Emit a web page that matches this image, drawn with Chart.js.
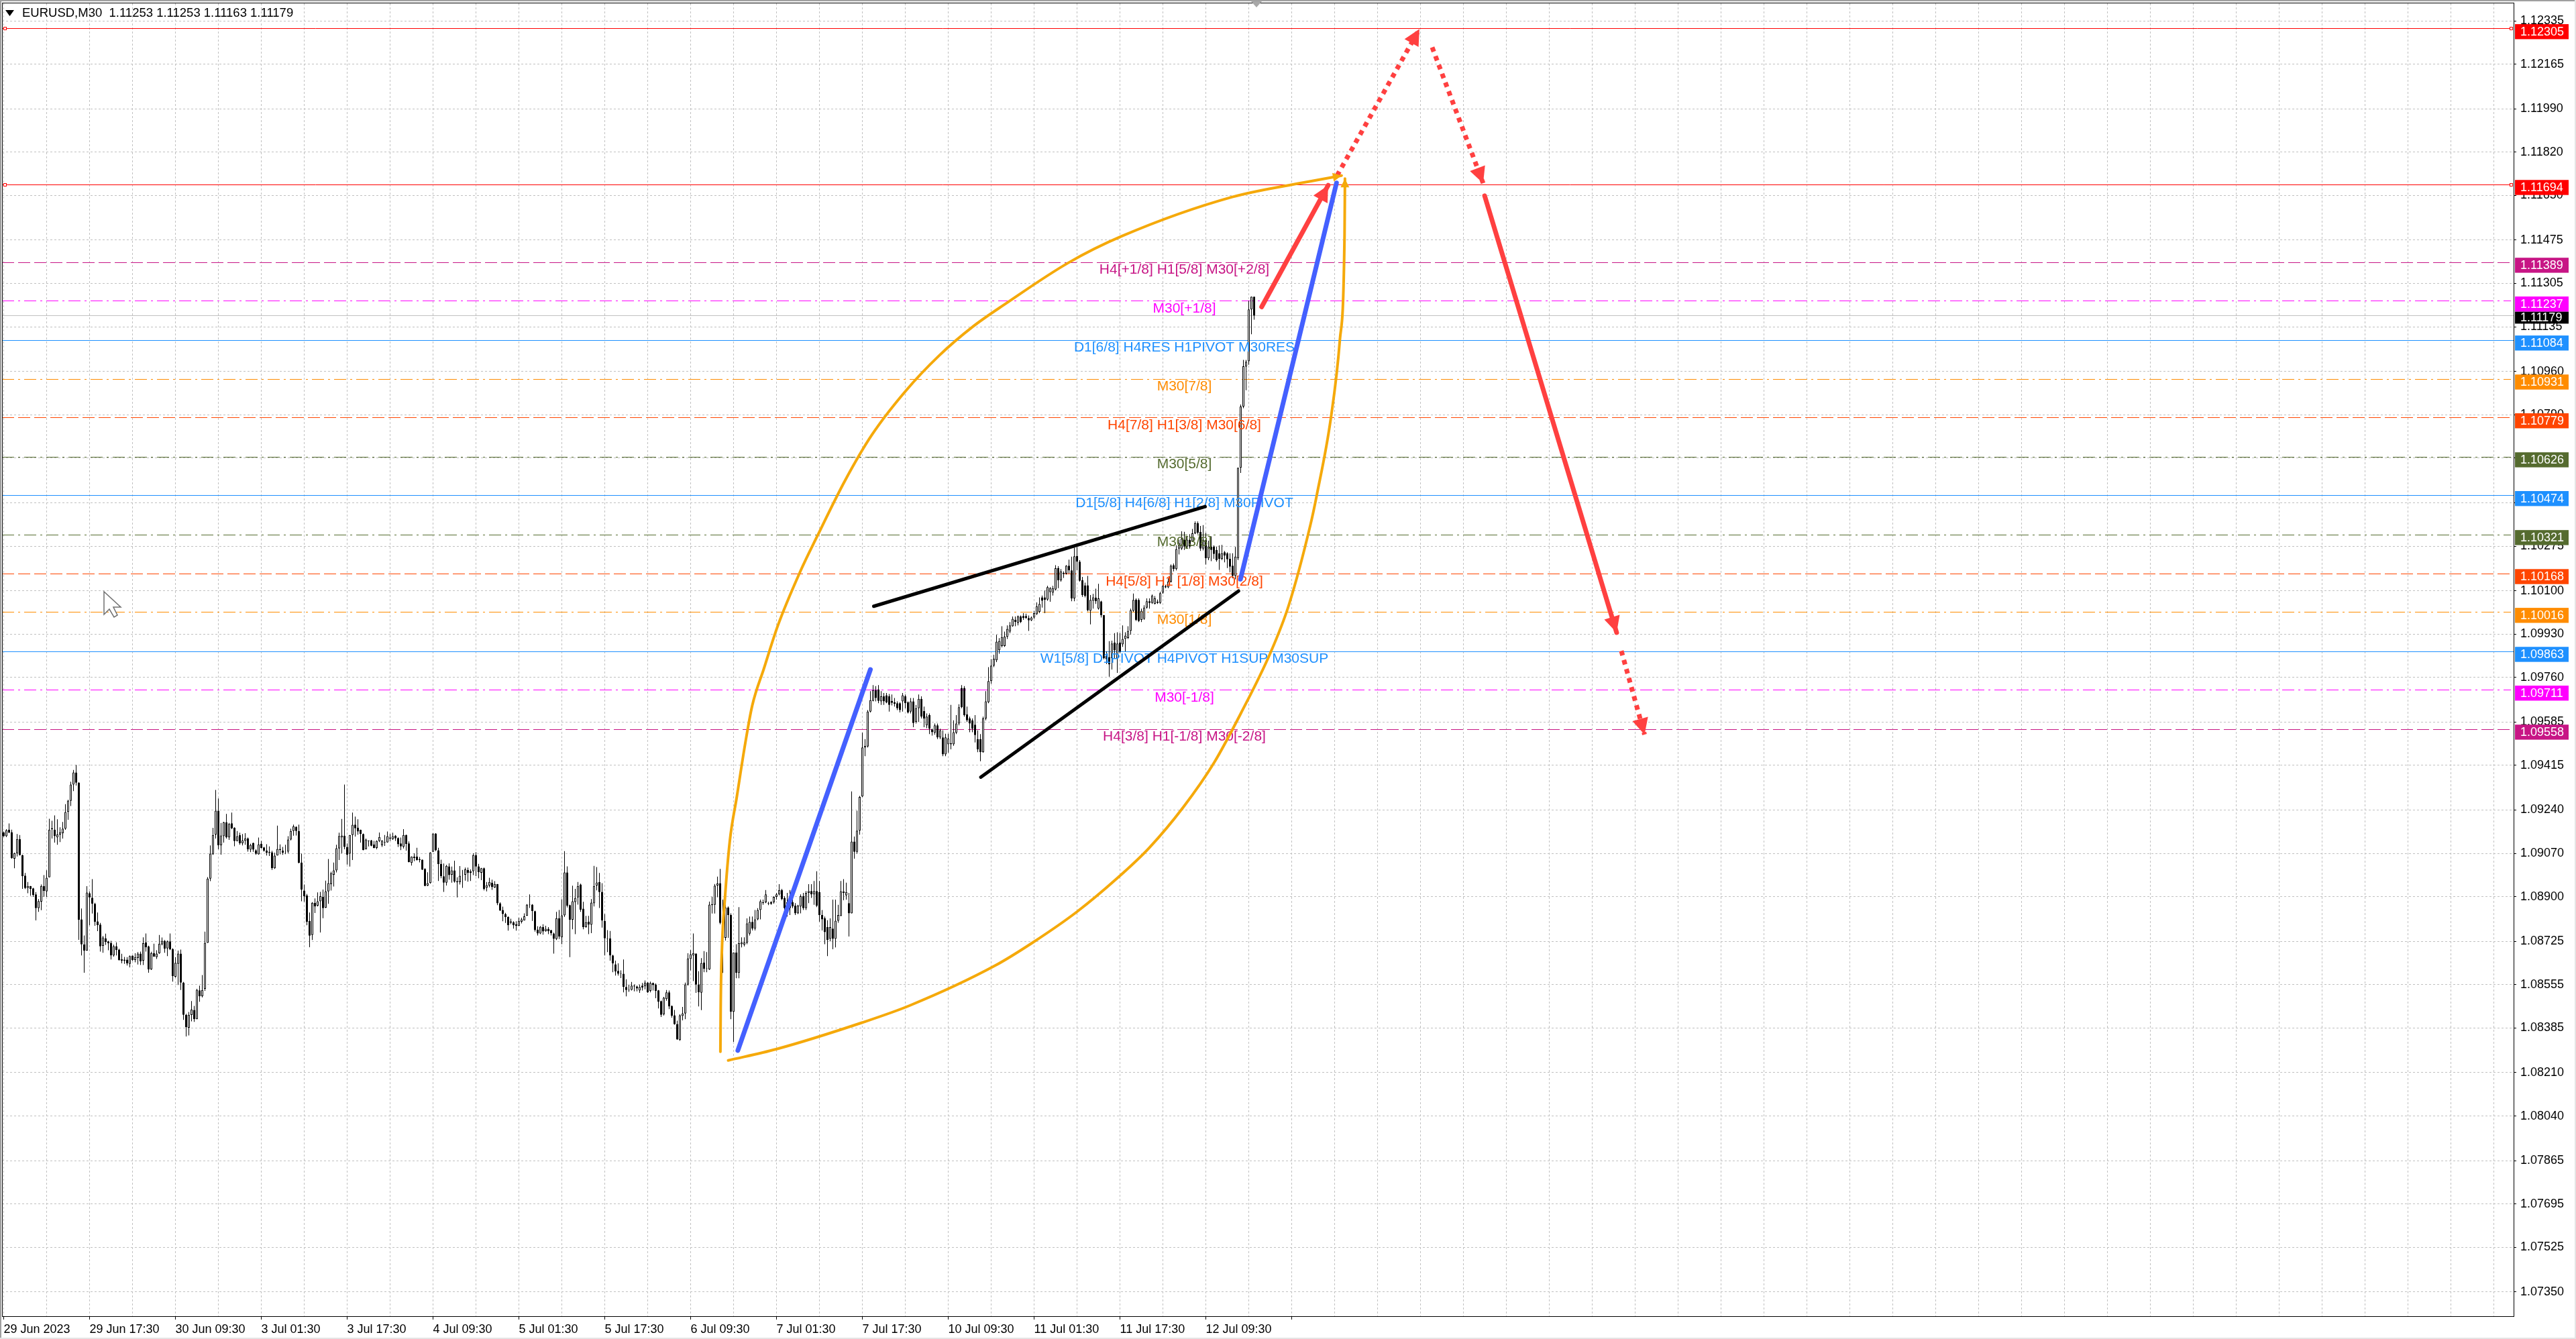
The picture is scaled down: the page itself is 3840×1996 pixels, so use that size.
<!DOCTYPE html>
<html>
<head>
<meta charset="utf-8">
<style>
  html, body { margin: 0; padding: 0; background: #fff; }
  canvas { display: block; }
</style>
<script src="https://cdn.jsdelivr.net/npm/chart.js@4/dist/chart.umd.js"></script>
</head>
<body>
<canvas id="chart" width="3840" height="1996"></canvas>
<script>
// EURUSD M30 candles, in points (109152 = 1.09152), one entry per bar
const opens = [
109152,109137,109163,109153,109049,109070,109126,109063,108983,108934,
108942,108933,108909,108855,108881,108942,108921,108976,109169,109163,
109133,109144,109149,109167,109233,109276,109340,109387,109347,108811,
108713,108689,108914,108896,108872,108803,108791,108707,108737,108725,
108719,108670,108706,108693,108649,108653,108653,108637,108669,108652,
108660,108677,108649,108721,108705,108615,108679,108663,108678,108713,
108727,108697,108725,108695,108586,108637,108677,108563,108437,108386,
108436,108456,108420,108533,108510,108539,108719,108971,109066,109144,
109237,109102,109137,109192,109133,109188,109171,109118,109141,109110,
109119,109129,109085,109111,109082,109066,109108,109093,109081,109076,
109074,109012,109062,109087,109081,109076,109077,109124,109158,109174,
109158,109034,108924,108905,108805,108750,108876,108865,108882,108900,
108857,108921,108949,108986,109003,109089,109133,109139,109095,109069,
109142,109183,109171,109162,109146,109086,109121,109121,109105,109091,
109118,109102,109112,109113,109132,109126,109139,109130,109109,109096,
109142,109109,109033,109057,109058,109048,109045,109009,108943,108954,
109076,109148,109082,109029,108980,108955,109019,108986,109003,108961,
108957,108983,108986,109005,108994,109000,109063,109019,108994,109012,
108935,108944,108955,108936,108949,108874,108848,108832,108821,108803,
108800,108792,108786,108802,108807,108825,108867,108869,108843,108771,
108756,108781,108765,108774,108769,108756,108734,108816,108741,108827,
108995,108867,108810,108879,108897,108948,108853,108781,108802,108790,
108874,108944,108957,108919,108805,108737,108737,108670,108635,108609,
108600,108598,108546,108535,108535,108551,108548,108532,108551,108549,
108563,108531,108562,108556,108533,108491,108439,108499,108525,108472,
108435,108401,108338,108432,108442,108555,108656,108670,108677,108556,
108524,108642,108617,108615,108867,108868,108944,108953,108796,108739,
108858,108828,108449,108681,108601,108714,108712,108720,108755,108801,
108775,108811,108848,108875,108878,108875,108878,108878,108899,108909,
108926,108895,108879,108855,108878,108865,108835,108862,108902,108855,
108915,108922,108909,108922,108918,108828,108815,108781,108735,108775,
108735,108806,108824,108915,108905,108875,108835,109116,109076,109159,
109293,109485,109489,109626,109668,109710,109713,109666,109686,109690,
109686,109668,109663,109659,109659,109666,109686,109663,109626,109666,
109585,109639,109676,109628,109572,109612,109556,109543,109572,109525,
109525,109458,109498,109502,109498,109543,109579,109719,109719,109615,
109599,109592,109575,109518,109518,109467,109599,109663,109746,109806,
109827,109867,109883,109883,109919,109940,109961,109986,109973,109999,
110001,110001,109993,109984,109995,110008,110017,110074,110074,110065,
110094,110092,110105,110189,110141,110165,110167,110198,110180,110070,
110236,110214,110141,110121,110121,110021,110061,110073,110030,110058,
110004,109844,109840,109835,109896,109835,109897,109890,109911,109915,
109942,110021,110065,110064,109986,109990,110034,110059,110052,110048,
110057,110052,110092,110113,110113,110136,110200,110185,110265,110265,
110300,110273,110300,110294,110325,110365,110331,110265,110300,110227,
110273,110273,110260,110247,110225,110251,110247,110225,110198,110158,
110227,110582,110822,110979,111000,111203,111253];
const highs = [
109156,109165,109187,109163,109073,109146,109142,109065,108993,108958,
108942,108935,108918,108891,108948,108985,109004,109206,109198,109219,
109204,109172,109193,109263,109280,109351,109397,109417,109349,108854,
108748,108941,108921,108969,108876,108838,108797,108746,108755,108727,
108727,108712,108721,108696,108676,108664,108663,108670,108670,108678,
108683,108685,108741,108756,108708,108684,108716,108690,108750,108740,
108730,108728,108756,108698,108663,108689,108693,108566,108441,108448,
108491,108472,108539,108551,108593,108763,108977,109101,109170,109319,
109285,109189,109194,109225,109189,109230,109172,109158,109151,109146,
109149,109132,109108,109112,109086,109132,109119,109095,109106,109097,
109080,109073,109179,109105,109095,109104,109137,109167,109183,109176,
109183,109069,108948,108911,108838,108879,108893,108917,108919,108928,
108963,109048,108998,109034,109104,109151,109205,109340,109109,109142,
109230,109214,109204,109163,109148,109128,109121,109123,109119,109121,
109152,109121,109142,109156,109146,109151,109142,109133,109132,109165,
109144,109117,109058,109070,109092,109056,109046,109012,108996,109074,
109148,109149,109092,109045,109030,109025,109031,109018,109041,108976,
109020,109005,109014,109014,109007,109070,109075,109029,109013,109014,
108958,108974,108967,108961,108950,108878,108861,108837,108823,108814,
108804,108804,108818,108818,108835,108871,108909,108871,108845,108784,
108785,108792,108786,108781,108770,108759,108841,108848,108890,109079,
109019,108869,108943,108931,108958,108951,108880,108825,108825,108891,
109021,109016,108993,108953,108832,108769,108766,108672,108649,108639,
108611,108654,108576,108555,108566,108556,108551,108555,108562,108572,
108565,108567,108563,108560,108534,108493,108507,108534,108532,108474,
108456,108414,108439,108468,108563,108678,108691,108756,108678,108608,
108659,108687,108683,108881,108900,108950,108979,109009,108889,108868,
108862,108835,108681,108714,108859,108741,108741,108815,108822,108822,
108848,108855,108889,108889,108926,108880,108883,108902,108915,108949,
108931,108902,108915,108926,108922,108875,108868,108909,108915,108922,
108949,108949,108962,109000,108962,108848,108822,108808,108815,108889,
108889,108868,108962,108969,108955,108915,109313,109136,109237,109295,
109543,109518,109632,109706,109730,109726,109730,109706,109699,109699,
109695,109693,109679,109666,109663,109699,109693,109666,109679,109679,
109652,109693,109686,109646,109619,109619,109559,109579,109579,109559,
109552,109539,109539,109652,109592,109612,109655,109730,109726,109646,
109606,109599,109612,109552,109538,109606,109706,109800,109832,109849,
109927,109914,109961,109940,109964,109977,109999,109999,110003,110003,
110012,110010,110003,109999,110021,110054,110074,110081,110101,110119,
110114,110119,110200,110196,110185,110176,110200,110222,110234,110269,
110271,110220,110154,110132,110158,110083,110088,110108,110127,110061,
110005,109862,109902,109904,109934,109937,109934,109964,109937,109961,
110030,110089,110070,110070,110030,110043,110070,110070,110085,110079,
110065,110096,110123,110123,110149,110203,110207,110278,110300,110333,
110331,110313,110322,110342,110372,110372,110354,110357,110327,110296,
110313,110278,110273,110278,110280,110256,110251,110247,110247,110272,
110582,110830,111005,111005,111237,111253,111253];
const lows = [
109134,109134,109149,109049,109012,109058,109062,108931,108930,108914,
108904,108899,108807,108841,108847,108900,108899,108976,109128,109112,
109104,109114,109128,109162,109202,109256,109314,109336,108731,108670,
108602,108689,108788,108834,108786,108765,108685,108680,108711,108690,
108654,108665,108670,108649,108639,108637,108630,108623,108648,108643,
108634,108632,108632,108685,108602,108613,108665,108656,108676,108709,
108680,108667,108691,108567,108583,108554,108534,108417,108352,108356,
108411,108409,108420,108488,108505,108531,108719,108961,109064,109128,
109086,109065,109112,109128,109123,109165,109098,109117,109104,109101,
109104,109077,109075,109076,109064,109065,109089,109077,109062,109060,
109005,109009,109062,109066,109064,109067,109070,109121,109139,109140,
109031,108882,108880,108788,108702,108730,108836,108862,108760,108816,
108856,108872,108924,108940,108995,109044,109070,109086,109026,109018,
109044,109136,109143,109112,109082,109086,109097,109098,109090,109086,
109114,109095,109099,109112,109119,109123,109119,109095,109083,109089,
109081,109035,109022,109039,109042,109035,109005,108941,108941,108951,
109076,109079,108962,108972,108919,108944,108967,108955,108955,108897,
108948,108935,108963,108959,108962,108985,108981,108972,108965,108925,
108921,108937,108927,108935,108867,108844,108804,108797,108767,108792,
108775,108767,108786,108795,108807,108825,108856,108805,108763,108748,
108753,108751,108763,108753,108748,108677,108730,108734,108714,108821,
108858,108663,108772,108753,108869,108841,108772,108779,108753,108757,
108862,108925,108856,108779,108670,108683,108649,108604,108591,108591,
108581,108525,108509,108527,108532,108529,108529,108523,108532,108537,
108523,108525,108532,108502,108462,108428,108434,108492,108459,108426,
108398,108339,108335,108415,108420,108551,108611,108569,108523,108470,
108455,108604,108604,108613,108834,108834,108898,108792,108601,108728,
108739,108420,108331,108580,108580,108701,108705,108714,108748,108768,
108768,108808,108811,108868,108875,108867,108868,108873,108889,108905,
108886,108819,108822,108828,108855,108828,108832,108835,108848,108848,
108875,108895,108868,108859,108802,108768,108714,108667,108725,108694,
108701,108798,108824,108886,108889,108744,108835,109049,109069,109143,
109291,109451,109485,109623,109666,109666,109659,109652,109652,109659,
109626,109650,109646,109632,109623,109626,109639,109619,109619,109565,
109579,109585,109599,109565,109561,109538,109532,109535,109518,109518,
109451,109451,109465,109478,109492,109538,109572,109639,109606,109585,
109545,109545,109505,109467,109431,109465,109592,109659,109735,109800,
109820,109853,109878,109880,109911,109933,109959,109961,109964,109973,
109986,109990,109942,109981,109990,110005,110012,110034,110012,110061,
110057,110081,110101,110110,110136,110150,110163,110167,110059,110059,
110180,110136,110076,110074,110019,109968,110030,110048,110026,109995,
109831,109813,109763,109791,109835,109778,109855,109880,109862,109911,
109928,110017,109981,109977,109977,109986,110030,110030,110048,110046,
110048,110048,110088,110110,110110,110132,110176,110180,110242,110260,
110260,110265,110265,110291,110322,110322,110256,110258,110203,110220,
110216,110225,110214,110182,110220,110211,110189,110172,110149,110145,
110220,110562,110816,110886,110986,111106,111163];
const closes = [
109137,109161,109152,109051,109071,109126,109063,108981,108934,108942,
108930,108907,108855,108883,108942,108923,108974,109163,109165,109137,
109144,109153,109167,109232,109277,109340,109387,109347,108810,108713,
108689,108916,108897,108873,108801,108789,108705,108740,108722,108718,
108670,108706,108691,108652,108655,108649,108639,108667,108652,108663,
108677,108647,108718,108702,108615,108679,108665,108677,108716,108727,
108696,108725,108694,108589,108641,108677,108563,108437,108388,108437,
108457,108420,108535,108510,108534,108719,108971,109069,109142,109237,
109102,109140,109192,109133,109185,109168,109118,109137,109110,109121,
109129,109086,109103,109085,109068,109105,109091,109081,109072,109073,
109012,109061,109087,109083,109073,109075,109124,109158,109176,109158,
109033,108928,108902,108801,108747,108876,108862,108882,108902,108855,
108921,108953,108992,109003,109090,109138,109140,109095,109064,109142,
109182,109168,109156,109146,109083,109124,109118,109100,109091,109119,
109134,109120,109114,109137,109128,109137,109129,109106,109097,109142,
109107,109036,109057,109052,109044,109044,109006,108942,108953,109073,
109148,109082,109028,108981,108955,109021,108985,109003,108959,108957,
108982,108984,109007,108994,109000,109063,109018,108996,109012,108930,
108945,108958,108938,108950,108874,108846,108832,108820,108788,108798,
108788,108786,108805,108811,108823,108869,108869,108844,108769,108756,
108782,108764,108774,108765,108757,108735,108816,108744,108827,108995,
108865,108810,108882,108895,108942,108849,108781,108800,108791,108877,
108942,108956,108918,108807,108737,108735,108670,108639,108607,108598,
108598,108547,108534,108533,108551,108548,108540,108546,108544,108563,
108525,108562,108553,108531,108488,108437,108504,108525,108470,108433,
108400,108340,108435,108442,108556,108658,108674,108679,108555,108525,
108640,108617,108619,108869,108871,108943,108952,108797,108739,108858,
108828,108449,108681,108601,108718,108721,108721,108795,108801,108775,
108811,108848,108882,108878,108909,108872,108873,108899,108909,108926,
108891,108855,108855,108878,108862,108835,108865,108902,108855,108915,
108922,108909,108922,108865,108828,108811,108761,108730,108781,108735,
108806,108828,108921,108921,108918,108835,109116,109076,109159,109291,
109485,109492,109626,109671,109710,109679,109668,109686,109666,109662,
109652,109660,109656,109639,109632,109690,109659,109623,109666,109581,
109639,109676,109606,109599,109606,109559,109545,109572,109525,109552,
109458,109525,109521,109498,109545,109579,109643,109643,109612,109592,
109579,109559,109534,109478,109467,109599,109666,109746,109806,109833,
109900,109903,109918,109920,109950,109964,109990,109977,109999,109977,
109993,109993,109984,109995,110012,110039,110048,110061,110064,110114,
110111,110110,110188,110141,110176,110170,110198,110180,110070,110235,
110214,110139,110083,110079,110023,110064,110074,110059,110070,110004,
109835,109831,109811,109893,109866,109893,109862,109911,109924,109942,
110023,110064,109986,109981,110021,110034,110059,110052,110081,110070,
110052,110090,110119,110117,110136,110198,110185,110263,110287,110304,
110273,110300,110273,110325,110365,110327,110265,110300,110227,110273,
110260,110244,110220,110225,110247,110238,110223,110194,110158,110234,
110582,110822,110980,110998,111203,111253,111179];

// x axis text, one every 32 bars
const timeLabels = ["29 Jun 2023","29 Jun 17:30","30 Jun 09:30","3 Jul 01:30","3 Jul 17:30","4 Jul 09:30","5 Jul 01:30","5 Jul 17:30","6 Jul 09:30","7 Jul 01:30","7 Jul 17:30","10 Jul 09:30","11 Jul 01:30","11 Jul 17:30","12 Jul 09:30"];

const priceTicks = [1.12335,1.12165,1.11990,1.11820,1.11650,1.11475,1.11305,1.11135,1.10960,1.10790,1.10620,1.10445,1.10275,1.10100,1.09930,1.09760,1.09585,1.09415,1.09240,1.09070,1.08900,1.08725,1.08555,1.08385,1.08210,1.08040,1.07865,1.07695,1.07525,1.07350];

// murrey levels and their captions
const levelPrices = [1.12305,1.11694,1.11389,1.11237,1.11084,1.10931,1.10779,1.10626,1.10474,1.10321,1.10168,1.10016,1.09863,1.09711,1.09558];
const levelTexts = ["","","H4[+1/8] H1[5/8] M30[+2/8]","M30[+1/8]","D1[6/8] H4RES H1PIVOT M30RES","M30[7/8]","H4[7/8] H1[3/8] M30[6/8]","M30[5/8]","D1[5/8] H4[6/8] H1[2/8] M30PIVOT","M30[3/8]","H4[5/8] H1 [1/8] M30[2/8]","M30[1/8]","W1[5/8] D1PIVOT H4PIVOT H1SUP M30SUP","M30[-1/8]","H4[3/8] H1[-1/8] M30[-2/8]"];
const bidPrice = 1.11179;
const chartTitle = "EURUSD,M30  1.11253 1.11253 1.11163 1.11179";

// drawn objects, x in bar numbers, y in price
const upperArcBars = [267.1,267.2,267.7,268.75,270.6,273.2,276.35,278.95,283.35,288.5,296.85,303.1,313.6,323.6,336.1,348.6,361.1,373.6,396.6,416.6,457.85,488.35,498.6];
const upperArcPrices = [1.08292,1.08460,1.08702,1.08888,1.09118,1.09291,1.09501,1.09649,1.09796,1.09963,1.10175,1.10312,1.10533,1.10712,1.10883,1.11022,1.11135,1.11227,1.11385,1.11490,1.11644,1.11708,1.11728];
const lowerArcBars = [270,287.85,319.8,337.6,369.5,383.6,400.1,415.35,426.85,439.6,451.1,461.1,472.1,478.85,486.95,489.35,494.6,497.95,499.7,499.85];
const lowerArcPrices = [1.08258,1.08302,1.08406,1.08473,1.08630,1.08721,1.08842,1.08976,1.09091,1.09251,1.09426,1.09620,1.09857,1.10041,1.10357,1.10475,1.10777,1.11083,1.11496,1.11716];
const blueLines = [[273.6,1.08297,323,1.09791],[460.9,1.10145,496.7,1.11699]];
const blackLines = [[324.25,1.10039,447.75,1.10430],[364.15,1.09369,460.2,1.10099]];
const redArrows = [[468.8,1.11213,493.6,1.11690],[551.9,1.11649,601.1,1.09936]];
const redDotted = [[496.9,1.11728,527.6,1.12303],[532.35,1.12231,551.35,1.11698],[602.85,1.09864,611.5,1.09536]];

// ---- styles ----
const SOLID = [], DASH = [18,6], DASHDOT = [18,6,3,6];
const levelColors = ['#ff0000','#ff0000','#c71585','#ff00ff','#1e90ff','#ff8c00','#ff4500','#556b2f','#1e90ff','#556b2f','#ff4500','#ff8c00','#1e90ff','#ff00ff','#c71585'];
const levelDashes = [SOLID,SOLID,DASH,DASHDOT,SOLID,DASHDOT,DASH,DASHDOT,SOLID,DASHDOT,DASH,DASHDOT,SOLID,DASHDOT,DASH];
const ORANGE = '#f5a90a', BLUE = '#4460ff', RED = '#ff4040';
const FONT = '"Liberation Sans"';
const X_MIN = -0.625, X_MAX = 935.375, Y_MAX = 1.124034, Y_MIN = 1.07255;
const CAPTION_BAR = 440;

const toPrice = v => v / 100000;
const bars = opens.map((_, i) => i);

function segment(s, extra) {
  return Object.assign({
    type: 'line',
    data: [{ x: s[0], y: s[1] }, { x: s[2], y: s[3] }],
    pointRadius: 0,
    borderCapStyle: 'round',
    order: 1
  }, extra);
}

function arc(xs, ys) {
  return {
    type: 'line',
    data: xs.map((x, i) => ({ x, y: ys[i] })),
    borderColor: ORANGE,
    borderWidth: 4,
    pointRadius: 0,
    cubicInterpolationMode: 'monotone',
    borderCapStyle: 'round',
    arrow: 13,
    order: 2
  };
}

const levelSets = levelPrices.map((p, i) => ({
  type: 'line',
  data: [{ x: X_MIN, y: p }, { x: levelColors[i] === '#1e90ff' ? X_MAX : 934.4, y: p }],
  borderColor: levelColors[i],
  borderWidth: 1,
  borderDash: levelDashes[i],
  pointRadius: 0,
  crisp: true,
  order: 6
}));

const datasets = [
  ...levelSets,
  {
    type: 'line',
    data: [{ x: X_MIN, y: bidPrice }, { x: X_MAX, y: bidPrice }],
    borderColor: '#c0c0c0',
    borderWidth: 1,
    pointRadius: 0,
    crisp: true,
    order: 7
  },
  {
    // wicks
    data: bars.map(i => ({ x: i, y: [toPrice(lows[i]), toPrice(highs[i])] })),
    backgroundColor: '#000',
    barThickness: 1,
    grouped: false,
    inflateAmount: 0,
    order: 5
  },
  {
    // bodies
    id: 'bodies',
    data: bars.map(i => ({ x: i, y: [toPrice(opens[i]), toPrice(closes[i])] })),
    backgroundColor: bars.map(i => closes[i] >= opens[i] ? '#fff' : '#000'),
    borderColor: '#000',
    borderWidth: 1,
    borderSkipped: false,
    barThickness: 3,
    grouped: false,
    inflateAmount: 0,
    order: 4
  },
  arc(upperArcBars, upperArcPrices),
  arc(lowerArcBars, lowerArcPrices),
  ...blackLines.map(s => segment(s, { borderColor: '#000', borderWidth: 5 })),
  ...blueLines.map(s => segment(s, { borderColor: BLUE, borderWidth: 7 })),
  ...redArrows.map(s => segment(s, { borderColor: RED, borderWidth: 7, arrow: 24 })),
  ...redDotted.map(s => segment(s, { borderColor: RED, borderWidth: 7, borderDash: [7, 7], borderCapStyle: 'butt', arrow: 24 }))
];

// the tick labels would otherwise push the plot area in
function noScalePadding(axis) {
  axis.paddingTop = axis.paddingBottom = axis.paddingLeft = axis.paddingRight = 0;
}

// everything that is not a dataset: captions, price tags, arrow heads, frame
const decorations = {
  id: 'decorations',
  beforeDraw(chart) {
    const c = chart.ctx;
    c.save();
    c.fillStyle = '#fff';
    c.fillRect(0, 0, 3840, 1996);
    c.fillStyle = '#a0a0a0';
    c.fillRect(0, 0, 3840, 2);
    c.fillRect(0, 0, 2, 1996);
    c.fillStyle = '#e4e4e4';
    c.fillRect(3838, 0, 2, 1996);
    c.fillRect(0, 1994, 3840, 2);
    c.restore();
  },
  // keep the 1px level lines on whole pixels
  beforeDatasetDraw(chart, args) {
    const ds = chart.data.datasets[args.index];
    if (!ds.crisp) return;
    const y = chart.scales.y.getPixelForValue(ds.data[0].y);
    chart.ctx.save();
    chart.ctx.translate(0, Math.round(y) + 0.5 - y);
  },
  afterDatasetDraw(chart, args) {
    const ds = chart.data.datasets[args.index];
    if (ds.crisp) chart.ctx.restore();
    if (ds.id !== 'bodies') return;
    // captions sit over the candles but under the drawn objects
    const c = chart.ctx, { x, y } = chart.scales;
    c.save();
    c.font = '21px ' + FONT;
    c.textAlign = 'center';
    c.textBaseline = 'middle';
    levelTexts.forEach((t, i) => {
      if (!t) return;
      c.fillStyle = levelColors[i];
      c.fillText(t, x.getPixelForValue(CAPTION_BAR), y.getPixelForValue(levelPrices[i]) + 12);
    });
    c.restore();
  },
  afterDatasetsDraw(chart) {
    const c = chart.ctx, area = chart.chartArea;
    // arrow heads
    chart.data.datasets.forEach((ds, i) => {
      if (!ds.arrow) return;
      const pts = chart.getDatasetMeta(i).data;
      const tip = pts[pts.length - 1], prev = pts[pts.length - 2];
      const a = Math.atan2(tip.y - prev.y, tip.x - prev.x);
      const len = ds.arrow, half = ds.arrow * 0.5;
      c.save();
      c.translate(tip.x, tip.y);
      c.rotate(a);
      c.fillStyle = ds.borderColor;
      c.beginPath();
      c.moveTo(0, 0);
      c.lineTo(-len, -half);
      c.lineTo(-len, half);
      c.closePath();
      c.fill();
      c.restore();
    });
    // little anchors on the two red lines
    c.save();
    c.strokeStyle = '#ff0000';
    c.fillStyle = '#fff';
    [0, 1].forEach(i => {
      const py = Math.round(chart.scales.y.getPixelForValue(levelPrices[i]));
      [5, 3741].forEach(px => {
        c.fillRect(px, py - 2, 5, 5);
        c.strokeRect(px + 0.5, py - 1.5, 4, 4);
      });
    });
    // frame
    c.strokeStyle = '#000';
    c.strokeRect(area.left + 0.5, area.top - 0.5, area.right - area.left, area.bottom - area.top + 1);
    c.restore();
  },
  afterDraw(chart) {
    const c = chart.ctx, y = chart.scales.y;
    c.save();
    // price tags on the right
    c.font = '18px ' + FONT;
    c.textBaseline = 'middle';
    c.textAlign = 'left';
    const tag = (p, color, up, down) => {
      const py = y.getPixelForValue(p);
      c.fillStyle = color;
      c.fillRect(3749, py - up, 80, up + down);
      c.fillStyle = '#fff';
      c.fillText(p.toFixed(5), 3757, py + (down - up) / 2 + 1);
    };
    tag(bidPrice, '#000', 6, 12);
    levelPrices.forEach((p, i) => tag(p, levelColors[i], 6.4, 16));
    // title
    c.fillStyle = '#000';
    c.font = '18.5px ' + FONT;
    c.fillText(chartTitle, 33, 20);
    c.beginPath();
    c.moveTo(8, 15);
    c.lineTo(21, 15);
    c.lineTo(14.5, 24);
    c.closePath();
    c.fill();
    // shift marker on top
    c.fillStyle = '#a8a8a8';
    c.beginPath();
    c.moveTo(1865, 2);
    c.lineTo(1881, 2);
    c.lineTo(1873, 11);
    c.closePath();
    c.fill();
    // mouse cursor left on the chart
    c.fillStyle = '#fff';
    c.strokeStyle = '#707070';
    c.lineWidth = 1.5;
    c.beginPath();
    c.moveTo(155, 882);
    c.lineTo(155, 916);
    c.lineTo(163, 908);
    c.lineTo(170, 920);
    c.lineTo(175, 917);
    c.lineTo(169, 905);
    c.lineTo(180, 905);
    c.closePath();
    c.fill();
    c.stroke();
    c.restore();
  }
};

new Chart(document.getElementById('chart'), {
  type: 'bar',
  data: { datasets },
  plugins: [decorations],
  options: {
    responsive: false,
    animation: false,
    devicePixelRatio: 1,
    layout: { padding: { left: 3, top: 5, right: 0, bottom: 0 } },
    plugins: { legend: { display: false }, tooltip: { enabled: false } },
    scales: {
      x: {
        type: 'linear',
        min: X_MIN,
        max: X_MAX,
        offset: false,
        afterBuildTicks(axis) {
          const t = [];
          for (let v = 0; v <= X_MAX; v += 16) t.push({ value: v });
          axis.ticks = t;
        },
        afterFit(axis) { axis.height = 34; noScalePadding(axis); },
        grid: {
          offset: false,
          color: '#c0c0c0',
          tickLength: 5,
          tickColor: ctx => (ctx.tick && ctx.tick.value % 32 === 0 && ctx.tick.value <= 480) ? '#000' : 'rgba(0,0,0,0)'
        },
        border: { color: '#000', width: 1, dash: [3, 3] },
        ticks: {
          autoSkip: false,
          maxRotation: 0,
          align: 'start',
          padding: 4,
          color: '#000',
          font: { family: FONT, size: 18 },
          callback: v => (v % 32 === 0 && timeLabels[v / 32]) || ''
        }
      },
      y: {
        type: 'linear',
        position: 'right',
        min: Y_MIN,
        max: Y_MAX,
        afterBuildTicks(axis) { axis.ticks = priceTicks.map(v => ({ value: v })); },
        afterFit(axis) { axis.width = 93; noScalePadding(axis); },
        grid: { color: '#c0c0c0', tickLength: 4, tickColor: '#000' },
        border: { color: '#000', width: 1, dash: [3, 3] },
        ticks: {
          autoSkip: false,
          padding: 6,
          color: '#000',
          font: { family: FONT, size: 18 },
          callback: v => v.toFixed(5)
        }
      }
    }
  }
});
</script>
</body>
</html>
